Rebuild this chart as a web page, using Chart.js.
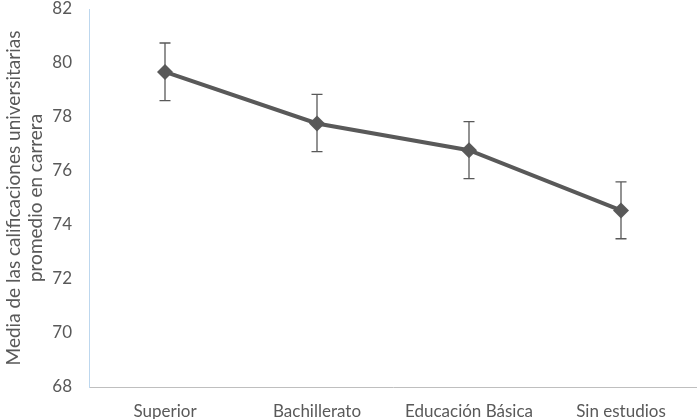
<!DOCTYPE html>
<html><head><meta charset="utf-8">
<script src="https://cdn.jsdelivr.net/npm/chart.js@4"></script>
<style>html,body{margin:0;padding:0;background:#fff;overflow:hidden}canvas{display:block}</style>
</head><body><canvas id="c" width="697" height="419"></canvas>
<script>
const categories = ["Superior", "Bachillerato", "Educación Básica", "Sin estudios"];
const means = [79.67, 77.76, 76.77, 74.54];
const errLow = [78.61, 76.72, 75.72, 73.49];
const errHigh = [80.74, 78.84, 77.83, 75.60];
const yTitle = ["Media de las calificaciones universitarias", "promedio en carrera"];
const yMin = 68, yMax = 82, yStep = 2;

const errorBars = {
  id: 'errorBars',
  afterDatasetsDraw(chart) {
    const ctx = chart.ctx, xs = chart.scales.x, ys = chart.scales.y;
    ctx.save();
    ctx.strokeStyle = '#595959';
    ctx.lineWidth = 1.3;
    categories.forEach((c, i) => {
      const x = xs.getPixelForValue(i);
      const yt = ys.getPixelForValue(errHigh[i]);
      const yb = ys.getPixelForValue(errLow[i]);
      ctx.beginPath();
      ctx.moveTo(x, yt); ctx.lineTo(x, yb);
      ctx.moveTo(x - 5.5, yt); ctx.lineTo(x + 5.5, yt);
      ctx.moveTo(x - 5.5, yb); ctx.lineTo(x + 5.5, yb);
      ctx.stroke();
    });
    ctx.restore();
  }
};

new Chart(document.getElementById('c'), {
  type: 'line',
  data: {
    labels: categories,
    datasets: [{
      data: means,
      borderColor: '#595959',
      backgroundColor: '#595959',
      borderWidth: 4,
      pointStyle: 'rectRot',
      pointRadius: 8,
      pointBorderWidth: 0,
      tension: 0,
      clip: false
    }]
  },
  options: {
    responsive: false,
    devicePixelRatio: 1,
    animation: false,
    layout: { autoPadding: false, padding: { top: 9, right: 0, left: 0, bottom: 0 } },
    plugins: { legend: { display: false }, tooltip: { enabled: false } },
    scales: {
      x: {
        offset: true,
        grid: { display: false },
        border: { display: true, color: '#bfbfbf', width: 1, dash: [2, 1] },
        ticks: { color: '#595959', font: { family: 'Lato', size: 17 }, padding: 6, maxRotation: 0 },
        afterFit(s) { s.height = 32; s.paddingLeft = 0; s.paddingRight = 0; }
      },
      y: {
        min: yMin, max: yMax,
        grid: { display: false },
        border: { display: true, color: '#bdd7ee', width: 1 },
        ticks: { stepSize: yStep, color: '#595959', font: { family: 'Lato', size: 17 }, padding: 9 },
        title: { display: true, text: yTitle, color: '#595959', font: { family: 'Lato', size: 19, lineHeight: 1.15 }, padding: { top: 3, bottom: 0 } },
        afterFit(s) { s.width = 89; s.paddingTop = 0; s.paddingBottom = 0; }
      }
    }
  },
  plugins: [errorBars]
});
</script></body></html>
